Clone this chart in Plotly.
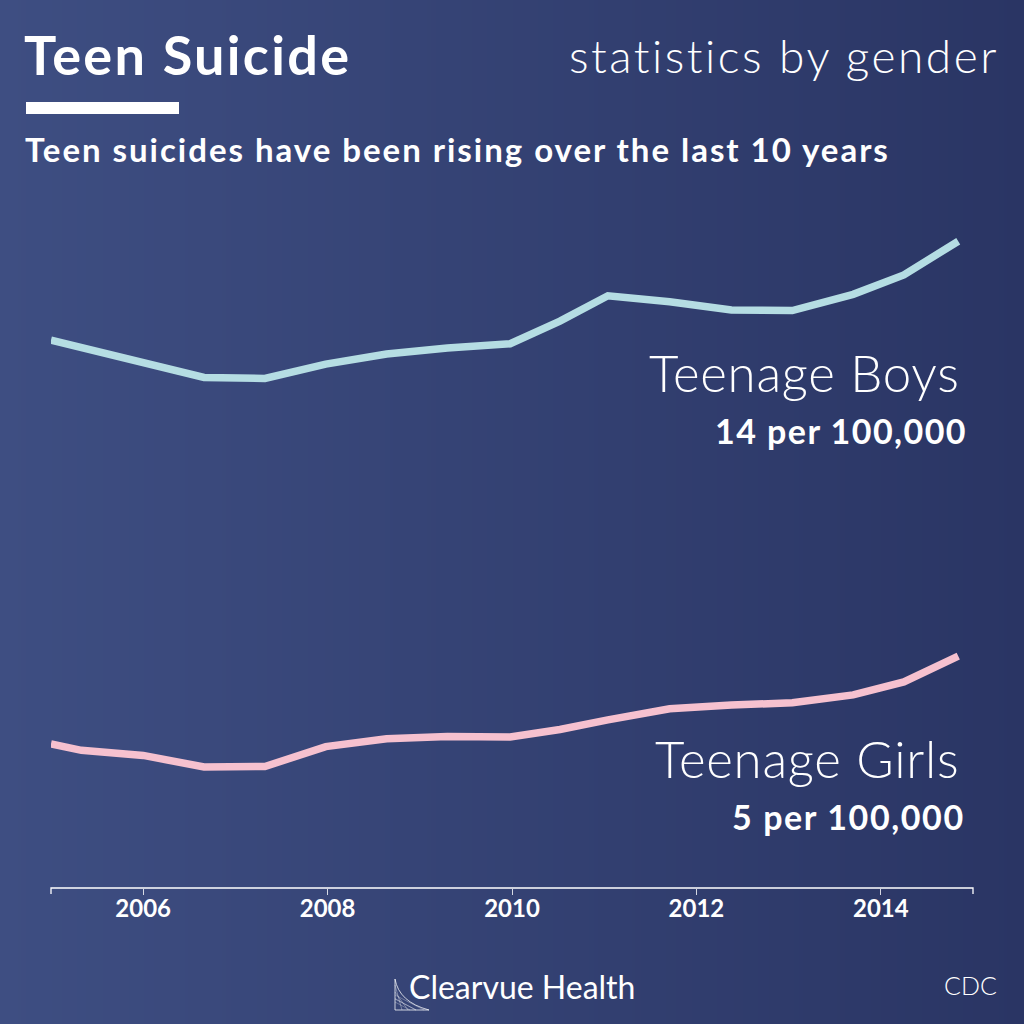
import plotly.graph_objects as go

years_boys = [2005, 2006, 2006.66, 2007.32, 2007.98, 2008.64, 2009.3, 2009.98, 2010.52, 2011.04, 2011.71, 2012.38, 2013.04, 2013.7, 2014.25, 2014.84]
boys = [11.86, 11.38, 11.05, 11.03, 11.34, 11.56, 11.69, 11.78, 12.27, 12.82, 12.69, 12.51, 12.50, 12.85, 13.27, 14.0]
years_girls = [2005, 2005.33, 2006, 2006.66, 2007.32, 2007.98, 2008.64, 2009.3, 2009.98, 2010.52, 2011.04, 2011.71, 2012.38, 2013.04, 2013.7, 2014.25, 2014.84]
girls = [3.12, 2.98, 2.87, 2.62, 2.63, 3.06, 3.23, 3.28, 3.27, 3.43, 3.64, 3.88, 3.96, 4.01, 4.18, 4.46, 5.02]
tick_years = [2006, 2008, 2010, 2012, 2014]

W = 1024.0
def px(x): return x / W
def py(y): return 1 - y / W

fig = go.Figure()
# background gradient, on the first subplot so the chart draws above it
fig.add_trace(go.Heatmap(z=[[0, 1], [0, 1]], x=[0, 1], y=[0, 1], xaxis="x", yaxis="y", zsmooth="best", showscale=False,
                         colorscale=[[0, "#3e4e82"], [1, "#2a3564"]], hoverinfo="skip"))
fig.add_trace(go.Scatter(x=years_boys, y=boys, mode="lines", xaxis="x2", yaxis="y2", line=dict(color="#b5dde3", width=7.5), hoverinfo="skip"))
fig.add_trace(go.Scatter(x=years_girls, y=girls, mode="lines", xaxis="x2", yaxis="y2", line=dict(color="#f6c1cf", width=7.5), hoverinfo="skip"))

def txt(s, x, y, size, anchor="left", weight=400, spacing=0):
    return dict(text=f'<span style="letter-spacing:{spacing}px">{s}</span>', x=px(x), y=py(y), xref="paper", yref="paper",
                xanchor=anchor, yanchor="middle", showarrow=False,
                font=dict(family="Lato", size=size, color="white", weight=weight))

annots = [
    txt("Teen Suicide", 22, 54, 54, weight=700, spacing=2.3),
    txt("statistics by gender", 1001, 55, 46, "right", weight=300, spacing=2.5),
    txt("Teen suicides have been rising over the last 10 years", 23, 149, 33, weight=700, spacing=1.97),
    txt("Teenage Boys", 962, 372, 51, "right", weight=300, spacing=0.75),
    txt("14 per 100,000", 969, 430, 34, "right", weight=700, spacing=1.45),
    txt("Teenage Girls", 961, 758, 51, "right", weight=300, spacing=0.75),
    txt("5 per 100,000", 967, 816, 34, "right", weight=700, spacing=1.6),
    txt("Clearvue Health", 407, 986, 32, weight=400),
    txt("CDC", 999, 985, 25, "right", weight=300),
]

def ln(x0, y0, x1, y1, w=1, c="rgba(255,255,255,0.75)"):
    return dict(type="line", xref="paper", yref="paper", x0=px(x0), y0=py(y0), x1=px(x1), y1=py(y1), line=dict(color=c, width=w), layer="above")

shapes = [dict(type="rect", xref="paper", yref="paper", x0=px(26), x1=px(179), y0=py(114), y1=py(102), fillcolor="white", line=dict(width=0))]
# logo glyph
shapes += [ln(395, 979, 395, 1010), ln(395, 1010, 429, 1010)]
shapes.append(dict(type="path", xref="paper", yref="paper", layer="above", line=dict(color="rgba(255,255,255,0.75)", width=1),
    path=f"M {px(395)} {py(979)} Q {px(399)} {py(1002)} {px(429)} {py(1010)}"))
for a, b in [(985, 402), (992, 408), (999, 416)]:
    shapes.append(ln(395, a, b, 1010, 0.7, "rgba(255,255,255,0.5)"))
    shapes.append(ln(395, 1002 - (a - 985) / 2, b + 8, 1010, 0.7, "rgba(255,255,255,0.4)"))
# axis line with end ticks
shapes.append(dict(type="path", xref="paper", yref="paper", line=dict(color="white", width=1.3),
    path=f"M {px(51)} {py(894)} L {px(51)} {py(888)} L {px(973)} {py(888)} L {px(973)} {py(894)}"))

fig.update_layout(
    width=1024, height=1024, margin=dict(l=0, r=0, t=0, b=0), showlegend=False, paper_bgcolor="#333f70",
    plot_bgcolor="rgba(0,0,0,0)", annotations=annots, shapes=shapes,
    xaxis=dict(domain=[0, 1], range=[0, 1], visible=False, anchor="y"),
    yaxis=dict(domain=[0, 1], range=[0, 1], visible=False, anchor="x"),
    xaxis2=dict(domain=[px(51), px(973)], range=[2005, 2015], tickvals=tick_years, ticktext=[str(t) for t in tick_years],
                showgrid=False, zeroline=False, showline=False, ticks="outside", ticklen=6, tickcolor="rgba(255,255,255,0.8)", tickwidth=1,
                ticklabelstandoff=-7,
                tickfont=dict(family="Lato", size=24, color="white", weight=700), anchor="y2"),
    yaxis2=dict(domain=[py(888), py(0)], range=[0, 888 / 46.2], visible=False, anchor="x2"),
)
fig.write_html("out.html", post_script="document.body.style.margin='0';", config=dict(displayModeBar=False))
